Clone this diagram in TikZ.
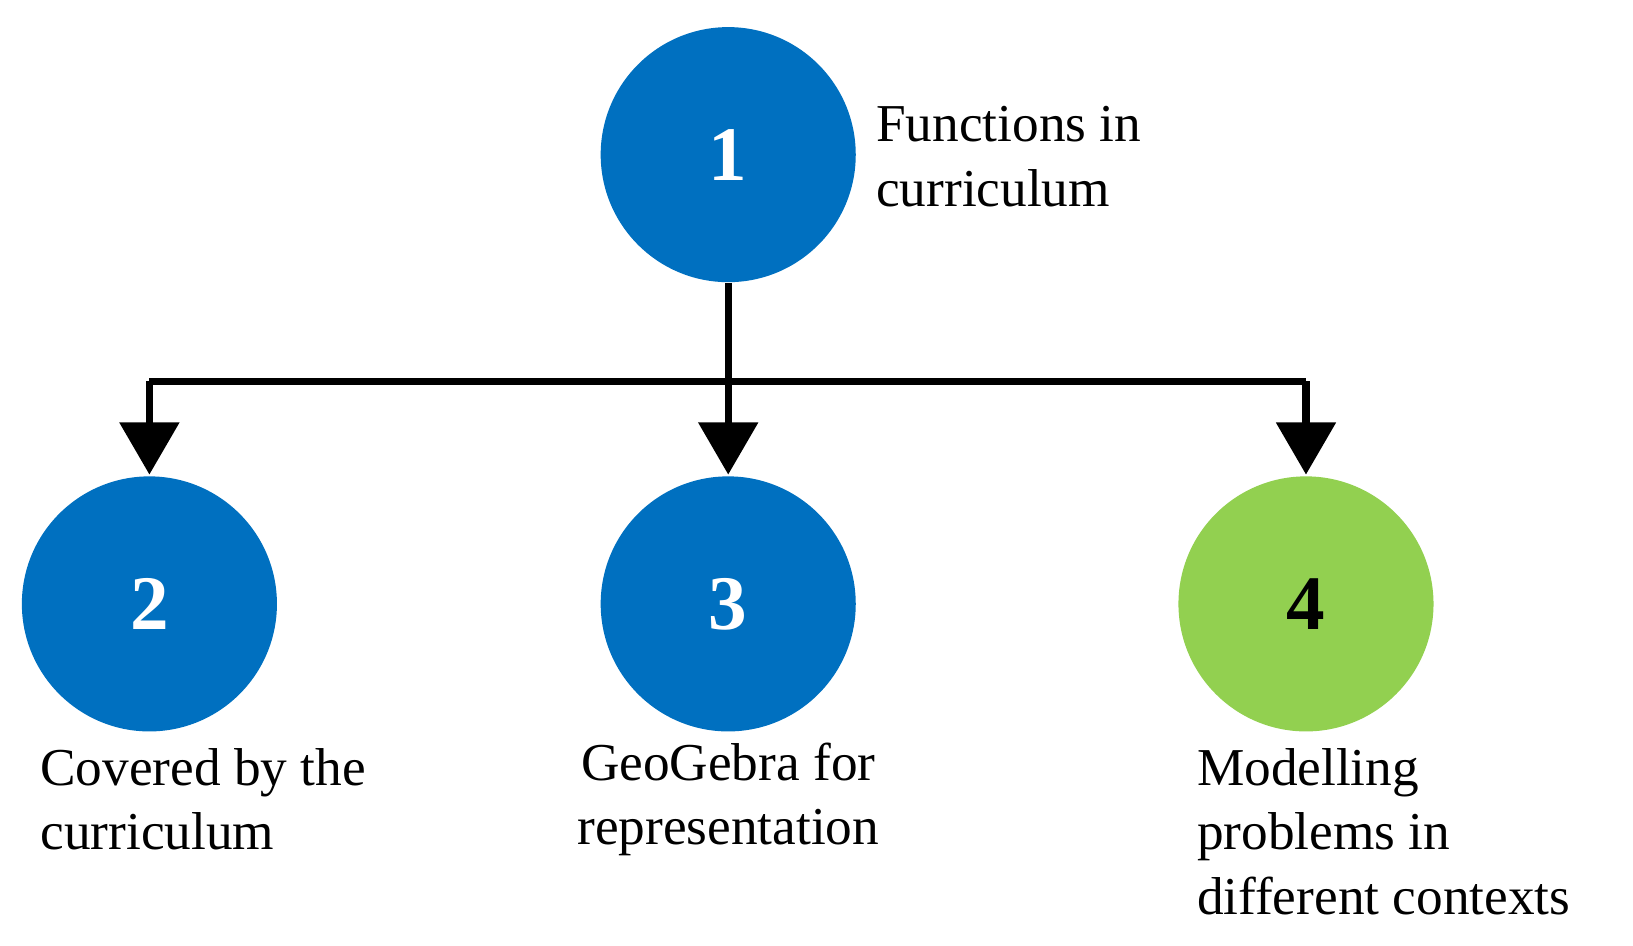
\documentclass[tikz,border=0pt]{standalone}
\usepackage{fontspec}
\setmainfont{Liberation Serif}
\usetikzlibrary{arrows.meta}
\begin{document}
\begin{tikzpicture}[x=0.01cm,y=-0.01cm,
  circ/.style={circle,minimum size=2.44cm,inner sep=0pt,text=white,font=\fontsize{21}{21}\selectfont\bfseries},
  lbl/.style={font=\fontsize{14.5}{17.6}\selectfont,inner sep=0pt},
  conn/.style={line width=0.07cm},
  arr/.style={conn,-{Triangle[length=0.5cm,width=0.56cm]}}]
\useasboundingbox (0,0) rectangle (1563,905);
\definecolor{cblue}{HTML}{0070C0}
\definecolor{cgreen}{HTML}{92D050}
\node[circ,fill=cblue] (n1) at (697,148) {1};
\node[circ,fill=cblue] (n2) at (143,578) {2};
\node[circ,fill=cblue] (n3) at (697,578) {3};
\node[circ,fill=cgreen,text=black] (n4) at (1250,578) {4};
\coordinate (j) at (697,365);
\coordinate (jl) at (143,365);
\coordinate (jr) at (1250,365);
\draw[conn] (n1.south) -- (j);
\draw[conn] (jl) -- (jr);
\draw[arr] (jl) -- ([yshift=0.01cm]n2.north);
\draw[arr] (j) -- ([yshift=0.01cm]n3.north);
\draw[arr] (jr) -- ([yshift=0.01cm]n4.north);
\node[lbl,align=left,anchor=west] (t1) at (838,150) {Functions in\\curriculum};
\node[lbl,align=left,anchor=west] (t2) at (38,765) {Covered by the\\curriculum};
\node[lbl,align=center] (t3) at (697,765) {GeoGebra for\\representation};
\node[lbl,align=left,anchor=west] (t4) at (1145,796) {Modelling\\problems in\\different contexts};
\end{tikzpicture}
\end{document}
